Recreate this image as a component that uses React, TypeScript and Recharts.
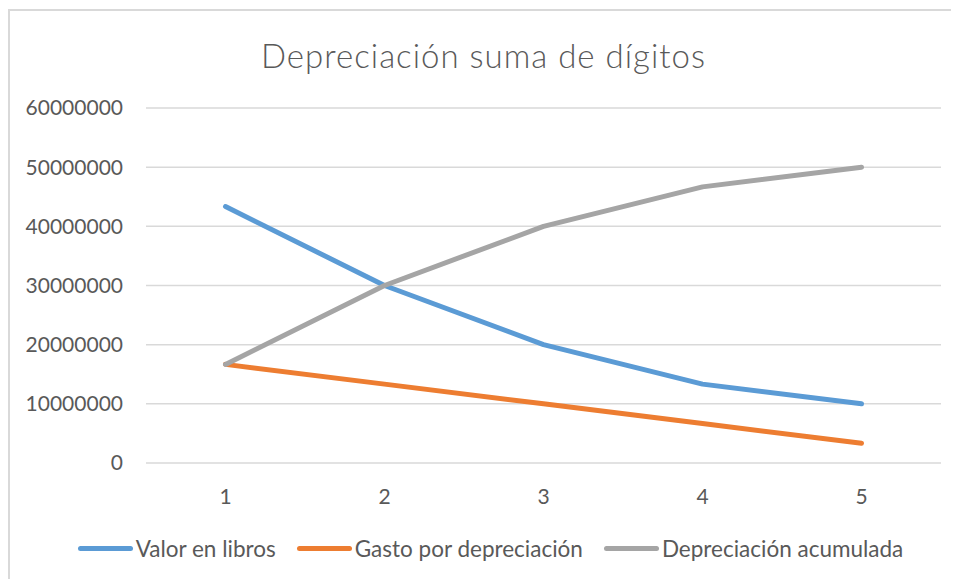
import { LineChart, Line, XAxis, YAxis, CartesianGrid } from "recharts";

const years = ["1", "2", "3", "4", "5"];
const valorEnLibros = [43333333, 30000000, 20000000, 13333333, 10000000];
const gastoDepreciacion = [16666667, 13333333, 10000000, 6666667, 3333333];
const depreciacionAcumulada = [16666667, 30000000, 40000000, 46666667, 50000000];
const yTicks = [0, 10000000, 20000000, 30000000, 40000000, 50000000, 60000000];

const data = years.map((year, i) => ({
  year,
  valor: valorEnLibros[i],
  gasto: gastoDepreciacion[i],
  acumulada: depreciacionAcumulada[i],
}));

const series = [
  { key: "valor", name: "Valor en libros", color: "#5B9BD5" },
  { key: "gasto", name: "Gasto por depreciación", color: "#ED7D31" },
  { key: "acumulada", name: "Depreciación acumulada", color: "#A5A5A5" },
];

const textColor = "#595959";
const font = "Lato, 'Open Sans', sans-serif";

function ChartLegend() {
  return (
    <div
      style={{
        position: "absolute",
        top: 527,
        left: 0,
        width: 951,
        display: "flex",
        justifyContent: "center",
        gap: 21,
        fontFamily: font,
        fontSize: 22.5,
        color: textColor,
        paddingLeft: 14,
        boxSizing: "border-box",
      }}
    >
      {series.map((s) => (
        <div key={s.key} style={{ display: "flex", alignItems: "center" }}>
          <span
            style={{
              display: "inline-block",
              width: 55,
              height: 5,
              borderRadius: 3,
              background: s.color,
              marginRight: 3,
            }}
          />
          <span>{s.name}</span>
        </div>
      ))}
    </div>
  );
}

export default function App() {
  return (
    <div style={{ position: "relative", width: 951, height: 571, overflow: "hidden", background: "#fff" }}>
      <div
        style={{
          position: "absolute",
          left: 0,
          top: 1,
          width: 1000,
          height: 1000,
          borderTop: "2px solid #d9d9d9",
          borderLeft: "2px solid #d9d9d9",
        }}
      />
      <div
        style={{
          position: "absolute",
          top: 27,
          left: 0,
          width: 951,
          textAlign: "center",
          fontFamily: font,
          fontWeight: 300,
          fontSize: 33,
          letterSpacing: 1,
          color: textColor,
        }}
      >
        Depreciación suma de dígitos
      </div>
      <LineChart
        width={951}
        height={571}
        data={data}
        margin={{ top: 100, right: 18, bottom: 86, left: 38 }}
        style={{ position: "absolute", top: 0, left: 0 }}
      >
        <CartesianGrid vertical={false} stroke="#d9d9d9" strokeWidth={1.5} />
        <XAxis
          dataKey="year"
          height={30}
          axisLine={false}
          tickLine={false}
          tickSize={0}
          tickMargin={26}
          padding={{ left: 79.5, right: 79.5 }}
          tick={{ fill: textColor, fontSize: 21, fontFamily: font }}
        />
        <YAxis
          width={100}
          domain={[0, 60000000]}
          ticks={yTicks}
          axisLine={false}
          tickLine={false}
          tickSize={0}
          tickMargin={23}
          interval={0}
          tick={{ fill: textColor, fontSize: 21, fontFamily: font }}
        />
        {series.map((s) => (
          <Line
            key={s.key}
            dataKey={s.key}
            name={s.name}
            stroke={s.color}
            strokeWidth={5}
            strokeLinecap="round"
            strokeLinejoin="round"
            dot={false}
            activeDot={false}
            isAnimationActive={false}
          />
        ))}
      </LineChart>
      <ChartLegend />
    </div>
  );
}
